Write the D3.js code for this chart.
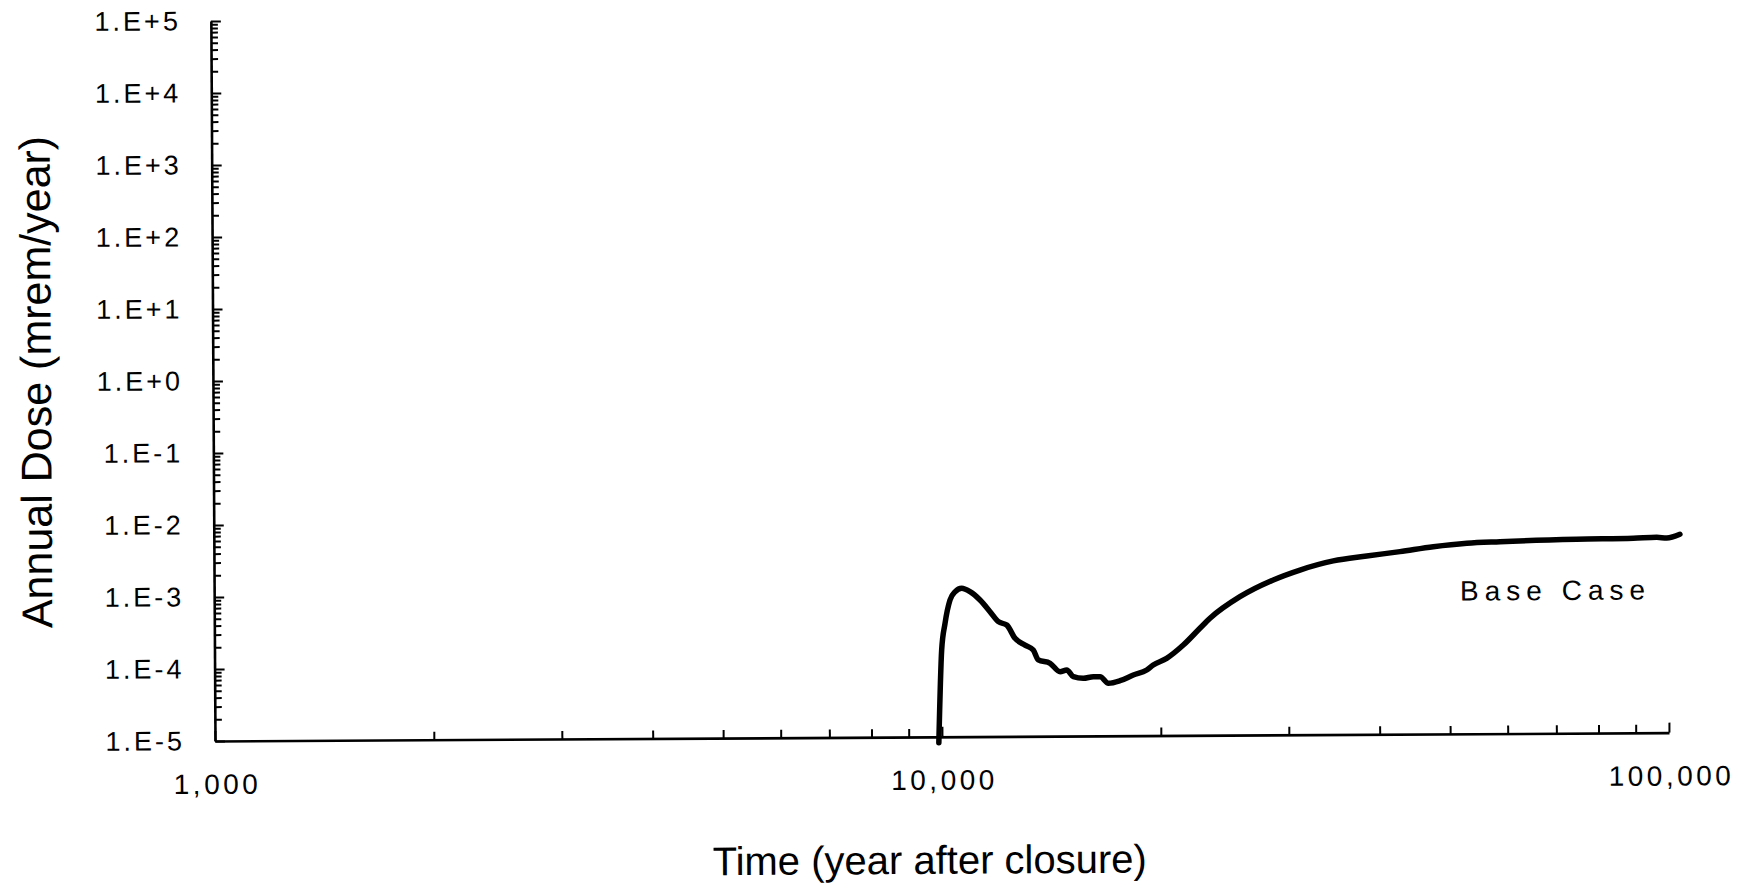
<!DOCTYPE html>
<html>
<head>
<meta charset="utf-8">
<script src="https://cdn.jsdelivr.net/npm/d3@7"></script>
<style>
  html, body { margin: 0; padding: 0; background: #fff; }
  svg { display: block; }
  text { font-family: "Liberation Sans", Arial, Helvetica, sans-serif; fill: #000; }
</style>
</head>
<body>
<svg id="chart" width="1748" height="887"></svg>
<script>
// ---------- data ----------
const xTicks = [1000, 10000, 100000];
const xTickLabels = ["1,000", "10,000", "100,000"];
const yTicks = [1e-5, 1e-4, 1e-3, 1e-2, 1e-1, 1e0, 1e1, 1e2, 1e3, 1e4, 1e5];
const yTickLabels = ["1.E-5", "1.E-4", "1.E-3", "1.E-2", "1.E-1", "1.E+0", "1.E+1", "1.E+2", "1.E+3", "1.E+4", "1.E+5"];
const xTitle = "Time (year after closure)";
const yTitle = "Annual Dose (mrem/year)";
const seriesName = "Base Case";

const years = [9900, 10006, 10118, 10283, 10449, 10674, 10957, 11309, 11670, 11981,
  12302, 12627, 13030, 13373, 13586, 14103, 14553, 14865, 15177, 15665,
  16170, 16519, 16955, 17594, 18350, 19150, 19550, 20400, 21510, 22680,
  23420, 25760, 28640, 31170, 34640, 38520, 42800, 47570, 52900, 58750,
  74930, 89650, 96540, 99650, 103900];
const dose = [8.3e-6, 1.61e-4, 3.77e-4, 7.94e-4, 1.03e-3, 1.15e-3, 1.03e-3, 7.89e-4, 5.42e-4, 3.93e-4,
  3.53e-4, 2.30e-4, 1.85e-4, 1.58e-4, 1.15e-4, 1.03e-4, 7.85e-5, 8.28e-5, 6.68e-5, 6.32e-5,
  6.65e-5, 6.65e-5, 5.38e-5, 5.82e-5, 6.97e-5, 8.15e-5, 9.55e-5, 1.18e-4, 1.80e-4, 3.07e-4,
  4.22e-4, 8.36e-4, 1.42e-3, 1.94e-3, 2.58e-3, 3.00e-3, 3.43e-3, 3.99e-3, 4.43e-3, 4.63e-3,
  4.93e-3, 5.03e-3, 5.17e-3, 5.05e-3, 5.67e-3];

// ---------- layout ----------
const svg = d3.select("#chart");
const X0 = 215, X1 = 1669, Y0 = 741, Y1 = 21;
const root = svg.append("g").attr("transform", `rotate(-0.33 ${X0} ${Y0})`);

const x = d3.scaleLog().domain([1000, 100000]).range([X0, X1]);
const y = d3.scaleLog().domain([1e-5, 1e5]).range([Y0, Y1]);

function minorTicks(lo, hi) {
  const out = [];
  for (let e = Math.log10(lo); e < Math.log10(hi); e++) {
    for (let m = 1; m <= 9; m++) out.push(m * Math.pow(10, e));
  }
  out.push(hi);
  return out;
}
const isMajor = v => Math.abs(Math.log10(v) - Math.round(Math.log10(v))) < 1e-9;

// Y axis ticks (pointing right, into plot)
const yAxisG = root.append("g").attr("transform", `translate(${X0},0)`)
  .call(d3.axisRight(y).tickValues(minorTicks(1e-5, 1e5)).tickFormat("").tickSizeOuter(0));
yAxisG.select(".domain").attr("stroke", "#000").attr("stroke-width", 2.6);
yAxisG.selectAll(".tick line").attr("stroke", "#000").attr("stroke-width", 2)
  .attr("x2", d => isMajor(d) ? 10 : 7);

// Y labels
const yLab = root.append("g").attr("transform", `translate(${X0},0)`)
  .call(d3.axisLeft(y).tickValues(yTicks).tickSize(0).tickPadding(30)
    .tickFormat((d, i) => yTickLabels[i]));
yLab.select(".domain").remove();
yLab.selectAll("text").attr("font-size", 27).attr("letter-spacing", "3px")
  .attr("font-family", "Liberation Sans, Arial, sans-serif").attr("fill", "#000");

// X axis ticks (pointing up)
const xAxisG = root.append("g").attr("transform", `translate(0,${Y0})`)
  .call(d3.axisTop(x).tickValues(minorTicks(1000, 100000)).tickFormat("").tickSizeOuter(0));
xAxisG.select(".domain").attr("stroke", "#000").attr("stroke-width", 2.6);
xAxisG.selectAll(".tick line").attr("stroke", "#000").attr("stroke-width", 2)
  .attr("y2", d => isMajor(d) ? -10 : -8);

// X labels
const xLab = root.append("g").attr("transform", `translate(0,${Y0})`)
  .call(d3.axisBottom(x).tickValues(xTicks).tickSize(0).tickPadding(33)
    .tickFormat((d, i) => xTickLabels[i]));
xLab.select(".domain").remove();
xLab.selectAll("text").attr("font-size", 28).attr("letter-spacing", "3.5px")
  .attr("font-family", "Liberation Sans, Arial, sans-serif").attr("fill", "#000")
  .attr("dx", "1.75px");

// Line
const pts = years.map((t, i) => [t, dose[i]]);
root.append("path")
  .datum(pts)
  .attr("fill", "none")
  .attr("stroke", "#000")
  .attr("stroke-width", 5.5)
  .attr("stroke-linejoin", "round")
  .attr("stroke-linecap", "round")
  .attr("d", d3.line().x(d => x(d[0])).y(d => y(d[1])).curve(d3.curveMonotoneX));

// Series label
root.append("text")
  .attr("x", x(70000))
  .attr("y", y(7.1e-4))
  .attr("text-anchor", "middle")
  .attr("font-size", 28)
  .attr("letter-spacing", "6px")
  .text(seriesName);

// Axis titles
root.append("text")
  .attr("x", 929).attr("y", 878)
  .attr("text-anchor", "middle")
  .attr("font-size", 40)
  .text(xTitle);

root.append("text")
  .attr("transform", `translate(53,381) rotate(-90)`)
  .attr("text-anchor", "middle")
  .attr("font-size", 43)
  .text(yTitle);
</script>
</body>
</html>
